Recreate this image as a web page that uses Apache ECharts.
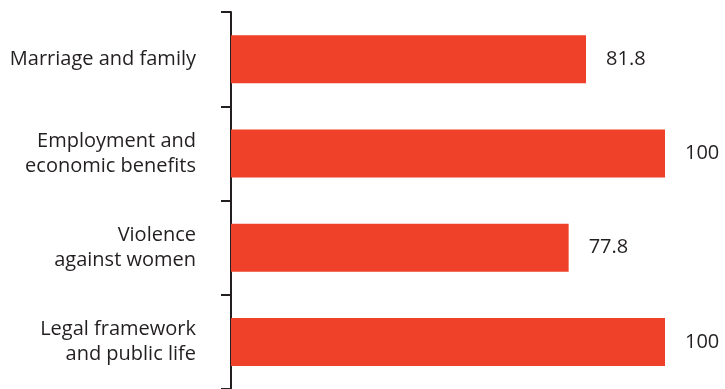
<!DOCTYPE html>
<html><head><meta charset="utf-8">
<script src="https://cdn.jsdelivr.net/npm/echarts@6/dist/echarts.min.js"></script>
<style>html,body{margin:0;padding:0;background:#fff}#c{width:725px;height:389px}</style>
</head><body><div id="c"></div>
<script>
const categories = ["Marriage and family", "Employment and\neconomic benefits", "Violence\nagainst women", "Legal framework\nand public life"];
const values = [81.8, 100, 77.8, 100];
const valueLabels = ["81.8", "100", "77.8", "100"];

const chart = echarts.init(document.getElementById('c'), null, {renderer: 'canvas'});
chart.setOption({
  animation: false,
  grid: {left: 231, right: 60, top: 12, bottom: -3, containLabel: false},
  xAxis: {type: 'value', min: 0, max: 100, show: false},
  yAxis: {
    type: 'category', data: categories, inverse: true,
    axisLine: {show: true, lineStyle: {color: '#231f20', width: 2}},
    axisTick: {show: true, length: 10, lineStyle: {color: '#231f20', width: 2}},
    axisLabel: {margin: 35, color: '#231f20', fontFamily: 'Open Sans', fontSize: 20, lineHeight: 25, align: 'right'}
  },
  series: [{
    type: 'bar', data: values, barWidth: 48,
    itemStyle: {color: '#EF4129'},
    label: {show: true, position: 'right', distance: 20, color: '#231f20', fontFamily: 'Open Sans', fontSize: 20,
      formatter: p => valueLabels[p.dataIndex]}
  }]
});
</script></body></html>
